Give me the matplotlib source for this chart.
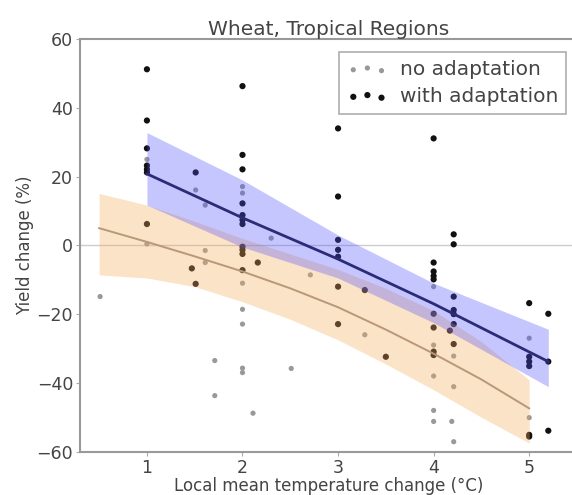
import numpy as np
import matplotlib
matplotlib.use("Agg")
import matplotlib.pyplot as plt

# points: (temperature change, yield change)
no_adapt_x = [0.51, 1.0, 1.0, 1.51, 1.61, 1.61, 1.61, 1.71, 1.71, 2.0, 2.0, 2.0, 2.0,
              2.0, 2.0, 2.0, 2.11, 2.30, 2.51, 2.71, 3.28, 4.0, 4.0, 4.0, 4.0, 4.0,
              4.21, 4.21, 4.19, 4.21, 5.0, 5.0]
no_adapt_y = [-14.9, 0.4, 25.0, 16.1, 11.7, -1.5, -5.0, -33.5, -43.7, 17.1, 15.2, -11.0, -18.6,
              -22.9, -35.7, -37.0, -48.8, 2.1, -35.8, -8.6, -26.0, -12.0, -29.0, -38.0, -48.0, -51.2,
              -32.2, -41.1, -51.2, -57.1, -27.0, -50.1]

adapt_x = [1.0, 1.0, 1.0, 1.0, 1.0, 1.0, 1.0, 1.51, 1.47, 1.51,
           2.0, 2.0, 2.0, 2.0, 2.0, 2.0, 2.0, 2.0, 2.0, 2.0, 2.0, 2.16,
           3.0, 3.0, 3.0, 3.0, 3.0, 3.0, 3.0, 3.28, 3.50,
           4.0, 4.0, 4.0, 4.0, 4.0, 4.0, 4.0, 4.0, 4.0,
           4.21, 4.21, 4.21, 4.21, 4.21, 4.21, 4.17, 4.21,
           5.0, 5.0, 5.0, 5.0, 5.0, 5.0, 5.2, 5.2, 5.2]
adapt_y = [51.2, 36.3, 28.2, 23.2, 22.1, 21.2, 6.2, 21.2, -6.7, -11.2,
           46.3, 26.3, 22.1, 12.2, 8.8, 7.4, 6.2, -0.4, -1.3, -2.5, -7.2, -5.0,
           34.0, 14.2, 1.6, -1.3, -3.3, -12.0, -22.9, -13.0, -32.4,
           31.1, -5.0, -7.6, -8.9, -9.9, -19.9, -23.9, -30.9, -31.9,
           3.2, 0.3, -14.9, -18.8, -20.0, -22.9, -24.8, -28.7,
           -16.8, -32.4, -33.8, -35.1, -55.1, -55.6, -19.9, -33.8, -53.9]

# fitted lines and their bands, read at a few temperatures
no_fit_x = [0.5, 1.0, 1.5, 2.0, 2.5, 3.0, 3.5, 4.0, 4.5, 5.0]
no_fit_mid = [5.0, 1.0, -3.2, -7.6, -12.5, -18.0, -24.5, -31.5, -39.0, -47.4]
no_fit_hi = [15.1, 11.7, 7.0, 2.0, -2.5, -7.0, -12.5, -19.0, -28.0, -39.1]
no_fit_lo = [-8.6, -9.5, -12.0, -16.4, -21.5, -27.5, -34.5, -42.0, -50.0, -57.5]

ad_fit_x = [1.0, 2.0, 3.0, 4.0, 5.2]
ad_fit_mid = [20.8, 8.0, -4.0, -17.0, -33.8]
ad_fit_hi = [32.8, 19.0, 3.0, -11.0, -24.4]
ad_fit_lo = [11.7, -0.5, -9.5, -22.5, -41.1]

txt = '#444444'
plt.rcParams['font.family'] = ['DejaVu Sans']

fig = plt.figure(figsize=(5.72, 4.95), dpi=100)
ax = fig.add_axes([0.1399, 0.0875, 0.8688, 0.8337])

ax.axhline(0, color='#cccccc', lw=1, zorder=0)

# points first, bands on top (points show through tinted)
ax.scatter(no_adapt_x, no_adapt_y, s=14, color='#999999', edgecolors='none', zorder=1,
           label='no adaptation')
ax.scatter(adapt_x, adapt_y, s=20, color='#111111', edgecolors='none', zorder=1,
           label='with adaptation')

ax.fill_between(no_fit_x, no_fit_lo, no_fit_hi, color='#f5aa5a', alpha=0.33, lw=0, zorder=2)
ax.fill_between(ad_fit_x, ad_fit_lo, ad_fit_hi, color='#5050ff', alpha=0.32, lw=0, zorder=2)
ax.plot(no_fit_x, no_fit_mid, color='#b89878', lw=1.4, zorder=3)
ax.plot(ad_fit_x, ad_fit_mid, color='#2b2b78', lw=2, zorder=3)

ax.set_xlim(0.3, 5.5)
ax.set_ylim(-60, 60)
ax.set_xticks([1, 2, 3, 4, 5])
ax.set_yticks([-60, -40, -20, 0, 20, 40, 60])
ax.tick_params(labelsize=12.5, colors=txt, length=3, color='#aaaaaa', pad=2)
for sp in ax.spines.values():
    sp.set_color('#999999')
    sp.set_linewidth(1.5)

ax.set_xlabel('Local mean temperature change (°C)', fontsize=12, color=txt, labelpad=0)
ax.set_ylabel('Yield change (%)', fontsize=12, color=txt, labelpad=2)
ax.set_title('Wheat, Tropical Regions', fontsize=14.5, color=txt, pad=3)

leg = ax.legend(loc='upper right', bbox_to_anchor=(0.978, 0.9685), borderaxespad=0,
                scatterpoints=3, fontsize=14.5, fancybox=False, handletextpad=0.6,
                borderpad=0.4, labelspacing=0.4)
leg.get_frame().set_edgecolor('#999999')
leg.get_frame().set_linewidth(1.2)
for t in leg.get_texts():
    t.set_color(txt)

fig.savefig('out.png', dpi=100)
